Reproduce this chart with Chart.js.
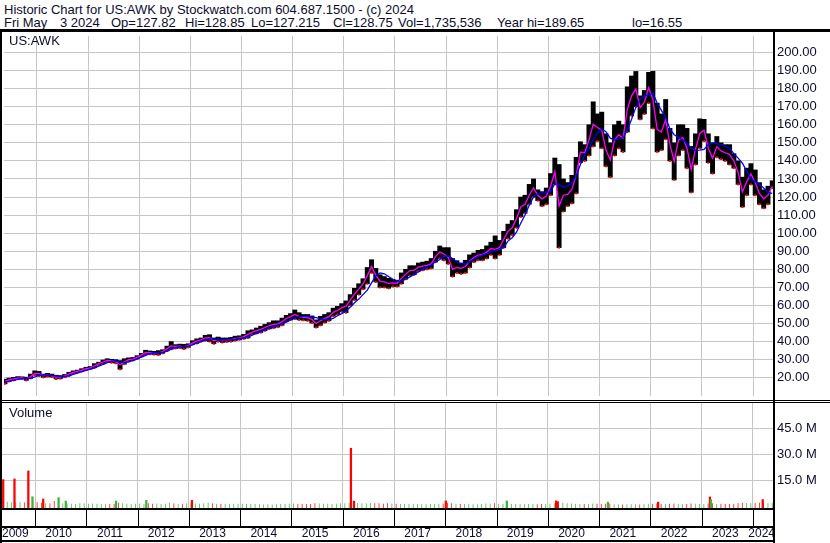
<!DOCTYPE html>
<html>
<head>
<meta charset="utf-8">
<script src="https://cdn.jsdelivr.net/npm/chart.js@4"></script>
<style>
  body { margin:0; background:#fff; width:830px; height:543px; position:relative; overflow:hidden;
         font-family:"Liberation Sans", Arial, sans-serif; color:#0c0c30; }
  .t { position:absolute; font-size:13px; white-space:pre; line-height:15px; }
  .ln { position:absolute; background:#000; }
  .box { position:absolute; left:0; width:830px; }
</style>
</head>
<body>
<div class="t" style="left:4px;top:2px">Historic Chart for US:AWK by Stockwatch.com 604.687.1500 - (c) 2024</div>
<div class="t" style="left:4px;top:15px">Fri May</div>
<div class="t" style="left:60px;top:15px">3 2024</div>
<div class="t" style="left:111px;top:15px">Op=127.82</div>
<div class="t" style="left:185px;top:15px">Hi=128.85</div>
<div class="t" style="left:251px;top:15px">Lo=127.215</div>
<div class="t" style="left:333px;top:15px">Cl=128.75</div>
<div class="t" style="left:398px;top:15px">Vol=1,735,536</div>
<div class="t" style="left:497px;top:15px">Year hi=189.65</div>
<div class="t" style="left:632px;top:15px">lo=16.55</div>

<div class="box" style="top:32px;height:368px"><canvas id="price" width="830" height="368"></canvas></div>
<div class="box" style="top:403px;height:140px"><canvas id="vol" width="830" height="140"></canvas></div>

<div class="t" style="left:9px;top:33px">US:AWK</div>
<div class="t" style="left:9px;top:405px">Volume</div>

<div class="ln" style="left:0;top:29px;width:830px;height:3px"></div>
<div class="ln" style="left:0;top:400px;width:830px;height:1px"></div>
<div class="ln" style="left:0;top:402px;width:830px;height:1px"></div>
<div class="ln" style="left:0;top:29px;width:2px;height:514px"></div>
<div class="ln" style="left:773px;top:29px;width:2px;height:514px"></div>

<script>
// monthly bars, first one is May 2009
const firstYear = 2009, firstMonth = 5;

const priceHi = [
  19.2, 19.8, 20.2, 20.6, 20.5, 20.3, 22.0, 23.8,
  23.5, 22.0, 22.4, 22.0, 21.4, 21.2, 21.8, 23.0, 23.8, 24.2, 25.0, 25.8,
  26.2, 27.8, 28.6, 29.8, 30.5, 30.2, 30.0, 29.5, 30.5, 31.0, 31.2, 32.2,
  33.5, 35.2, 34.8, 34.6, 35.0, 35.5, 37.5, 40.0, 38.3, 38.6, 38.5, 38.8,
  40.5, 41.5, 42.0, 43.5, 43.8, 42.0, 42.5, 42.0, 42.0, 42.3, 43.0, 43.2,
  44.0, 46.0, 46.5, 47.5, 48.5, 49.5, 50.5, 51.5, 51.5, 53.0, 54.5, 55.5,
  57.5, 56.0, 55.0, 55.0, 54.2, 52.0, 54.0, 55.0, 56.0, 58.5, 59.5, 61.0,
  62.5, 66.0, 69.5, 72.0, 74.8, 81.0, 85.3, 80.5, 77.0, 76.0, 75.0, 74.5,
  74.0, 78.0, 80.0, 82.0, 82.0, 83.5, 84.0, 84.5, 86.0, 90.0, 92.9, 92.0,
  92.0, 86.0, 84.8, 83.5, 85.0, 88.0, 89.0, 90.5, 91.0, 93.0, 95.0, 98.5,
  96.0, 101.0, 105.0, 107.0, 113.0, 120.0, 121.0, 127.0, 130.0, 124.0, 123.0, 125.0,
  133.0, 141.6, 138.0, 130.0, 128.0, 132.0, 142.0, 150.6, 149.0, 160.0, 172.7, 166.0,
  167.0, 155.0, 150.0, 160.0, 162.0, 160.0, 181.0, 187.0, 189.5, 176.0, 179.0, 189.0,
  189.6, 172.0, 166.0, 174.0, 158.0, 150.0, 160.0, 160.0, 158.0, 148.0, 155.0, 163.3,
  163.0, 155.0, 150.0, 153.5, 150.0, 149.0, 149.0, 144.0, 140.0, 131.0, 136.0, 138.5,
  135.0, 128.0, 124.0, 126.0, 129.0
];
const priceLo = [
  16.6, 18.0, 18.5, 19.2, 19.3, 18.5, 19.6, 21.4,
  21.0, 20.2, 20.6, 20.4, 19.3, 19.5, 20.3, 21.0, 22.3, 22.8, 23.4, 24.2,
  24.8, 25.5, 27.0, 27.6, 28.6, 28.3, 28.0, 24.7, 27.5, 29.0, 29.5, 30.4,
  31.6, 32.8, 33.0, 32.8, 32.6, 33.5, 34.8, 35.8, 36.2, 36.4, 35.9, 36.8,
  38.5, 39.0, 40.0, 40.5, 40.0, 38.8, 40.0, 39.5, 39.8, 40.0, 40.5, 41.0,
  41.5, 42.0, 44.0, 44.5, 45.0, 46.0, 47.0, 47.5, 48.0, 49.0, 51.0, 52.0,
  52.5, 52.0, 51.8, 51.5, 50.3, 47.8, 49.0, 50.5, 51.5, 54.0, 55.0, 56.5,
  56.0, 60.0, 63.0, 66.0, 69.0, 72.0, 78.0, 73.0, 70.0, 70.0, 69.5, 70.5,
  70.5, 72.0, 74.5, 76.5, 77.0, 79.0, 79.5, 80.0, 80.5, 84.0, 86.0, 85.0,
  83.0, 76.0, 78.0, 77.5, 78.0, 81.0, 84.0, 85.0, 85.0, 86.0, 88.0, 86.0,
  88.0, 92.0, 97.0, 99.0, 103.0, 109.0, 111.0, 116.0, 120.0, 118.0, 115.0, 116.0,
  121.0, 127.0, 92.0, 112.0, 115.0, 116.5, 122.0, 139.0, 140.0, 143.0, 148.0, 151.0,
  147.0, 137.0, 131.0, 143.0, 147.0, 145.0, 156.0, 165.0, 170.0, 163.0, 166.0, 172.0,
  158.0, 145.0, 146.0, 152.0, 140.0, 129.5, 143.0, 146.0, 136.0, 122.6, 138.0, 147.0,
  151.0, 139.0, 133.0, 142.0, 141.0, 140.0, 138.0, 136.0, 127.0, 114.5, 121.0, 127.0,
  121.0, 116.0, 113.8, 116.0, 125.0
];
// magenta average
const maFast = [
  18.0, 18.9, 19.3, 19.8, 19.9, 19.5, 20.6, 22.4,
  22.3, 21.2, 21.4, 21.2, 20.4, 20.3, 21.0, 22.0, 23.0, 23.5, 24.2, 25.0,
  25.5, 26.6, 27.8, 28.7, 29.6, 29.3, 29.0, 27.2, 28.6, 30.0, 30.3, 31.3,
  32.5, 34.0, 33.9, 33.7, 33.8, 34.5, 36.0, 37.6, 37.3, 37.5, 37.2, 37.8,
  39.3, 40.2, 41.0, 42.0, 42.2, 40.4, 41.2, 40.8, 40.9, 41.1, 41.7, 42.1,
  42.7, 44.0, 45.2, 46.0, 46.8, 47.8, 48.8, 49.5, 49.8, 51.0, 52.8, 53.8,
  55.0, 54.0, 53.4, 53.3, 52.3, 50.0, 51.5, 52.8, 53.8, 56.2, 57.2, 58.8,
  59.5, 63.0, 66.3, 69.0, 71.9, 76.5, 81.6, 76.8, 73.5, 73.0, 72.2, 72.5,
  72.3, 75.0, 77.2, 79.3, 79.5, 81.2, 81.8, 82.2, 83.0, 87.0, 89.5, 88.5,
  86.5, 80.0, 81.0, 80.5, 81.5, 84.5, 86.5, 87.8, 88.2, 89.5, 91.5, 91.0,
  92.0, 96.5, 101.0, 103.0, 108.0, 114.5, 116.0, 121.0, 125.0, 121.0, 119.0, 120.5,
  126.0, 134.0, 115.0, 121.0, 121.5, 124.3, 132.0, 144.8, 144.5, 151.5, 160.3, 158.5,
  157.0, 146.0, 140.5, 151.5, 154.5, 152.5, 168.5, 176.0, 179.8, 169.5, 172.5, 180.5,
  174.0, 157.5, 156.0, 163.0, 149.0, 139.8, 151.5, 153.0, 147.0, 135.3, 146.5, 155.2,
  157.0, 147.0, 141.5, 147.8, 145.5, 144.5, 143.5, 140.0, 133.5, 122.8, 128.5, 132.8,
  128.0, 122.0, 119.0, 121.0, 126.0
];
// blue average
const maSlow = [
  17.5, 18.0, 18.6, 19.1, 19.5, 19.6, 19.7, 20.4,
  21.3, 21.6, 21.3, 21.2, 20.9, 20.6, 20.6, 21.0, 21.8, 22.6, 23.3, 24.0,
  24.7, 25.4, 26.4, 27.4, 28.3, 29.0, 29.3, 28.6, 28.3, 28.8, 29.6, 30.4,
  31.4, 32.4, 33.3, 33.8, 33.8, 33.9, 34.7, 35.8, 36.7, 37.2, 37.3, 37.5,
  38.2, 39.2, 40.0, 40.8, 41.4, 41.3, 41.0, 41.0, 40.9, 41.0, 41.3, 41.7,
  42.0, 42.5, 43.5, 44.5, 45.5, 46.5, 47.5, 48.3, 49.0, 49.8, 50.8, 52.0,
  53.0, 53.8, 54.0, 54.0, 53.7, 53.2, 52.6, 52.3, 52.2, 52.8, 54.3, 55.5,
  57.0, 59.0, 61.5, 63.5, 66.0, 68.5, 72.5, 76.5, 78.0, 77.5, 76.0, 74.5,
  73.4, 73.4, 74.5, 75.8, 77.2, 78.6, 80.0, 81.3, 82.5, 84.0, 85.4, 87.0,
  87.5, 86.0, 84.2, 83.0, 83.0, 84.2, 85.7, 87.0, 87.8, 88.7, 89.6, 90.5,
  91.0, 92.0, 95.6, 97.5, 100.5, 105.5, 110.0, 115.5, 120.0, 121.8, 122.2, 122.7,
  123.0, 127.4, 127.0, 125.5, 126.0, 128.0, 131.5, 138.0, 143.3, 147.0, 152.0, 155.5,
  157.5, 156.2, 152.6, 151.6, 152.0, 152.8, 157.0, 163.0, 169.6, 174.0, 176.0, 176.5,
  177.5, 172.0, 168.0, 164.0, 157.7, 154.5, 153.0, 151.7, 149.5, 147.0, 145.8, 146.0,
  146.3, 149.0, 150.0, 149.5, 149.0, 148.0, 147.0, 144.0, 141.5, 138.7, 134.4, 130.0,
  128.5, 127.0, 125.0, 122.5, 122.0
];
// typical daily volume per month, millions
const volume = [
  3.0, 2.5, 2.2, 2.0, 2.3, 2.0, 2.5, 3.2,
  2.2, 1.8, 1.6, 1.5, 2.8, 1.8, 1.5, 1.4, 1.3, 1.2, 1.5, 1.4,
  1.3, 1.4, 1.3, 1.2, 1.3, 1.2, 1.1, 1.8, 1.5, 1.3, 1.2, 1.3,
  1.4, 1.2, 1.5, 1.3, 1.4, 1.2, 1.3, 1.9, 1.4, 1.2, 1.3, 1.6,
  1.5, 1.4, 1.3, 1.5, 1.8, 1.6, 1.3, 1.2, 1.3, 1.2, 1.1, 1.3,
  1.3, 1.2, 1.1, 1.1, 1.0, 0.9, 1.0, 0.9, 1.0, 1.1, 1.2, 1.3,
  1.4, 1.3, 1.2, 1.1, 1.2, 1.5, 1.4, 1.3, 1.3, 1.2, 1.3, 1.5,
  1.6, 1.8, 2.5, 1.7, 1.6, 1.5, 1.7, 1.6, 1.5, 1.3, 1.6, 1.4,
  1.3, 1.2, 1.2, 1.1, 1.2, 1.1, 1.0, 1.0, 1.1, 1.2, 1.3, 1.4,
  1.8, 1.5, 1.3, 1.2, 1.1, 1.3, 1.0, 1.0, 1.1, 1.4, 1.3, 1.5,
  1.3, 1.2, 1.3, 1.1, 1.2, 1.1, 1.0, 1.2, 1.1, 1.0, 1.1, 1.2,
  1.3, 1.5, 2.6, 1.8, 1.5, 1.4, 1.2, 1.1, 1.1, 1.2, 1.4, 1.3,
  1.2, 1.3, 1.4, 1.0, 1.0, 0.9, 0.9, 1.0, 1.0, 0.9, 1.0, 1.1,
  1.3, 1.4, 1.2, 1.1, 1.3, 1.4, 1.1, 1.0, 1.2, 1.4, 1.3, 1.2,
  1.2, 1.4, 1.5, 1.2, 1.3, 1.2, 1.1, 1.3, 1.5, 1.8, 1.7, 1.6,
  1.9, 1.8, 1.7, 1.6, 1.8
];
// single heavy days
const spikeAt  = [2009.38, 2009.60, 2009.87, 2009.95, 2010.16, 2010.46, 2010.60, 2011.58, 2012.17, 2013.06,
                  2016.16, 2016.22, 2018.01, 2019.20, 2020.16, 2020.19, 2021.17, 2022.15, 2023.16, 2023.18, 2024.19];
const spikeVol = [15.4, 15.8, 20.4, 5.5, 4.2, 5.0, 3.0, 3.0, 3.4, 3.4,
                  33.5, 3.0, 3.1, 3.1, 3.1, 2.6, 2.4, 2.4, 5.4, 3.8, 3.9];
const spikeUp  = [0, 0, 0, 1, 0, 1, 1, 1, 1, 0, 0, 0, 0, 1, 0, 0, 1, 0, 0, 1, 0];

const years = [2009, 2010, 2011, 2012, 2013, 2014, 2015, 2016, 2017, 2018, 2019, 2020, 2021, 2022, 2023, 2024];
const priceTicks = [20, 30, 40, 50, 60, 70, 80, 90, 100, 110, 120, 130, 140, 150, 160, 170, 180, 190, 200];
const volTicks = [15, 30, 45];

const xMin = 2009.3565, xMax = 2024.39;
const gridCol = '#c6c6c6';
const txtCol = '#0c0c30';
const font = { family: '"Liberation Sans", Arial, sans-serif', size: 13 };
const up = '#3cb43c', down = '#ff0000';

const monthX = priceHi.map((_, i) => firstYear + (firstMonth - 1 + i + 0.5) / 12);
const pts = arr => monthX.map((x, i) => ({ x: x, y: arr[i] }));

const noPad = s => { s.paddingTop = 0; s.paddingBottom = 0; s.paddingLeft = 0; s.paddingRight = 0; };
const xScale = {
  type: 'linear', min: xMin, max: xMax, offset: false,
  afterBuildTicks: s => { s.ticks = years.slice(1).map(v => ({ value: v })); },
  ticks: { display: false },
  grid: { color: gridCol, drawTicks: false, offset: false },
  border: { display: false },
  afterFit: s => { s.height = 0; noPad(s); }
};

new Chart(document.getElementById('price'), {
  type: 'bar',
  data: {
    datasets: [
      { type: 'line', data: pts(maSlow), borderColor: '#0000ff', borderWidth: 1.3, pointRadius: 0, order: 1 },
      { type: 'line', data: pts(maFast), borderColor: '#ff00ff', borderWidth: 1.3, pointRadius: 0, order: 2 },
      { type: 'line', data: pts(priceLo), showLine: false, pointStyle: 'rect', pointRadius: 1.4,
        pointBackgroundColor: down, pointBorderWidth: 0, order: 3 },
      { type: 'bar', data: monthX.map((x, i) => ({ x: x, y: [priceLo[i], priceHi[i]] })),
        backgroundColor: '#000', barPercentage: 1, categoryPercentage: 1, grouped: false, order: 4 }
    ]
  },
  options: {
    responsive: false, animation: false, devicePixelRatio: 1,
    layout: { padding: { left: 2, right: 0, top: 0, bottom: 0 } },
    plugins: { legend: { display: false }, tooltip: { enabled: false } },
    scales: {
      x: xScale,
      y: {
        position: 'right', min: 9.876, max: 209.12,
        afterBuildTicks: s => { s.ticks = priceTicks.map(v => ({ value: v })); },
        ticks: { color: txtCol, font: font, padding: 4, autoSkip: false, callback: v => v.toFixed(2) },
        grid: { color: gridCol, drawTicks: false },
        border: { display: false },
        afterFit: s => { s.width = 57; noPad(s); }
      }
    }
  }
});

const yearStrip = {
  id: 'yearStrip',
  afterDraw(chart) {
    const { ctx, chartArea: a } = chart;
    const x = chart.scales.x;
    const r = a.right + 2;
    ctx.save();
    ctx.fillStyle = '#000';
    ctx.fillRect(0, a.bottom, r, 2);
    years.slice(1).forEach(yr => ctx.fillRect(Math.round(x.getPixelForValue(yr)), a.bottom + 2, 1, 17));
    ctx.fillRect(0, a.bottom + 18, r, 2);
    ctx.fillRect(0, a.bottom + 32, r, 2);
    ctx.font = '12px "Liberation Sans", Arial, sans-serif';
    ctx.textAlign = 'center';
    ctx.textBaseline = 'middle';
    ctx.fillStyle = txtCol;
    years.forEach(yr => {
      const w = ctx.measureText(String(yr)).width;
      let cx = x.getPixelForValue(yr + 0.5) - 2;
      cx = Math.max(w / 2 + 2, Math.min(r - w / 2, cx));
      ctx.fillText(String(yr), cx, a.bottom + 26);
    });
    ctx.restore();
  }
};

const volMin = -0.98, volMax = 59.6;
new Chart(document.getElementById('vol'), {
  type: 'bar',
  data: {
    datasets: [
      { data: spikeAt.map((x, i) => ({ x: x, y: spikeVol[i] })),
        backgroundColor: spikeUp.map(u => u ? up : down), barThickness: 1.6, base: volMin, grouped: false, order: 1 },
      { data: monthX.map((x, i) => ({ x: x, y: volume[i] })),
        backgroundColor: maFast.map((v, i) => (i === 0 || v >= maFast[i - 1]) ? up : down),
        barPercentage: 1, categoryPercentage: 1, base: volMin, grouped: false, order: 2 }
    ]
  },
  options: {
    responsive: false, animation: false, devicePixelRatio: 1,
    layout: { padding: { left: 2, right: 0, top: 0, bottom: 35 } },
    plugins: { legend: { display: false }, tooltip: { enabled: false } },
    scales: {
      x: xScale,
      y: {
        position: 'right', min: volMin, max: volMax,
        afterBuildTicks: s => { s.ticks = volTicks.map(v => ({ value: v })); },
        ticks: { color: txtCol, font: font, padding: 4, autoSkip: false, callback: v => v.toFixed(1) + ' M' },
        grid: { color: gridCol, drawTicks: false },
        border: { display: false },
        afterFit: s => { s.width = 57; noPad(s); }
      }
    }
  },
  plugins: [yearStrip]
});
</script>
</body>
</html>
